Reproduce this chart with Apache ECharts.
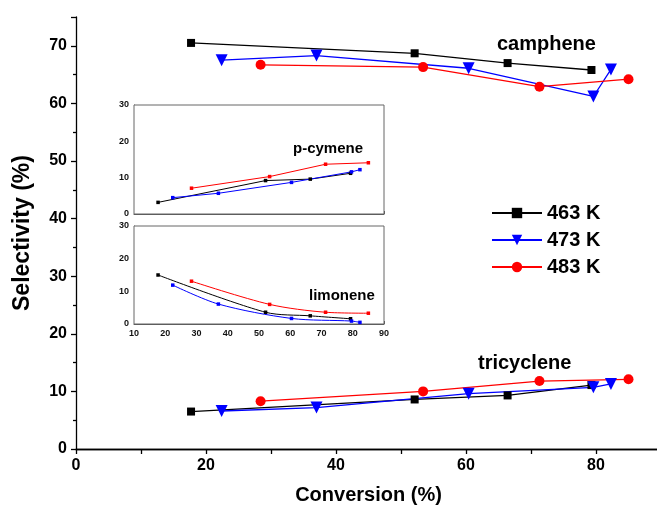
<!DOCTYPE html>
<html>
<head>
<meta charset="utf-8">
<script src="https://cdn.jsdelivr.net/npm/echarts@6/dist/echarts.min.js"></script>
<style>
  html, body { margin: 0; padding: 0; background: #fff; }
  #chart { width: 657px; height: 506px; }
</style>
</head>
<body>
<div id="chart"></div>
<script>
// conversion (%) for each temperature
const conv463 = [17.7, 52.1, 66.4, 79.3];
const conv473 = [22.4, 37.0, 60.4, 79.6, 82.3];
const conv483 = [28.4, 53.4, 71.3, 85.0];

// camphene selectivity (%)
const camphene463 = [70.5, 68.7, 67.0, 65.8];
const camphene473 = [67.5, 68.3, 66.1, 61.2, 65.9];
const camphene483 = [66.7, 66.3, 62.9, 64.2];

// tricyclene selectivity (%)
const tricyclene463 = [6.5, 8.6, 9.3, 11.1];
const tricyclene473 = [6.6, 7.2, 9.6, 10.7, 11.3];
const tricyclene483 = [8.3, 10.0, 11.8, 12.1];

// inset: p-cymene
const pcymene463 = [3.2, 9.2, 9.6, 11.2];
const pcymene473 = [4.5, 5.7, 8.7, 11.6, 12.2];
const pcymene483 = [7.1, 10.3, 13.7, 14.1];

// inset: limonene
const limonene463 = [15.0, 3.6, 2.5, 1.6];
const limonene473 = [11.9, 6.1, 1.7, 0.9, 0.5];
const limonene483 = [13.1, 6.0, 3.6, 3.3];

const tempNames = ['463 K', '473 K', '483 K'];
const colors = ['#000000', '#0000ff', '#ff0000'];

const font = 'Liberation Sans, Arial, Helvetica, sans-serif';
const zip = (xs, ys) => xs.map((x, i) => [x, ys[i]]);

const chart = echarts.init(document.getElementById('chart'));

const mainSym = [
  { symbol: 'rect', symbolSize: 8, symbolRotate: 0 },
  { symbol: 'triangle', symbolSize: 12, symbolRotate: 180 },
  { symbol: 'circle', symbolSize: 10, symbolRotate: 0 }
];
const convs = [conv463, conv473, conv483];

function mainSeries(values, idx) {
  return {
    name: tempNames[idx],
    type: 'line',
    xAxisIndex: 0, yAxisIndex: 0,
    data: zip(convs[idx], values),
    symbol: mainSym[idx].symbol,
    symbolSize: mainSym[idx].symbolSize,
    symbolRotate: mainSym[idx].symbolRotate,
    itemStyle: { color: colors[idx] },
    lineStyle: { color: colors[idx], width: 1.3 },
    z: 3
  };
}

function insetSeries(values, idx, gi, smooth) {
  return {
    name: tempNames[idx],
    type: 'line',
    xAxisIndex: gi, yAxisIndex: gi - 1,
    data: zip(convs[idx], values),
    symbol: 'rect',
    symbolSize: 3.5,
    smooth: smooth,
    itemStyle: { color: colors[idx] },
    lineStyle: { color: colors[idx], width: 1 },
    z: 5
  };
}

const insetY = gi => ({
  gridIndex: gi, type: 'value', min: 0, max: 30, interval: 10,
  axisLine: { show: true, lineStyle: { color: '#555', width: 1 } },
  axisTick: { show: true, inside: true, length: 3, lineStyle: { color: '#555' } },
  minorTick: { show: true, splitNumber: 2, length: 2, lineStyle: { color: '#555' } },
  axisLabel: { fontFamily: font, fontWeight: 'bold', fontSize: 9, color: '#111', margin: 5 },
  splitLine: { show: false }
});

const option = {
  animation: false,
  backgroundColor: '#fff',
  grid: [
    { left: 76, top: 17, width: 585, height: 432, outerBoundsMode: 'none', containLabel: false },
    { left: 134, top: 105, width: 250, height: 109, outerBoundsMode: 'none', show: true, backgroundColor: '#fff', borderColor: '#666', borderWidth: 1, z: 4 },
    { left: 134, top: 226, width: 250, height: 98, outerBoundsMode: 'none', show: true, backgroundColor: '#fff', borderColor: '#666', borderWidth: 1, z: 4 }
  ],
  legend: {
    data: tempNames,
    orient: 'vertical',
    left: 486, top: 198,
    itemWidth: 50, itemHeight: 13, itemGap: 7,
    textStyle: { fontFamily: font, fontWeight: 'bold', fontSize: 20, color: '#000' }
  },
  xAxis: [
    {
      gridIndex: 0, type: 'value', min: 0, max: 90, interval: 20,
      name: 'Conversion (%)', nameLocation: 'middle', nameGap: 36,
      nameTextStyle: { fontFamily: font, fontWeight: 'bold', fontSize: 20, color: '#000' },
      axisLine: { show: true, onZero: false, lineStyle: { color: '#000', width: 1.3 } },
      axisTick: { show: true, length: 5, lineStyle: { color: '#000', width: 1.3 } },
      minorTick: { show: true, splitNumber: 2, length: 5, lineStyle: { color: '#000', width: 1.3 } },
      axisLabel: { fontFamily: font, fontWeight: 'bold', fontSize: 16, color: '#000', margin: 9, showMaxLabel: false },
      splitLine: { show: false }
    },
    {
      gridIndex: 0, type: 'value', min: 0, max: 90, position: 'top',
      axisLine: { show: true, lineStyle: { color: '#000', width: 1.3 } },
      axisTick: { show: false }, axisLabel: { show: false }, splitLine: { show: false }
    },
    {
      gridIndex: 1, type: 'value', min: 10, max: 90, interval: 10,
      axisLine: { show: true, onZero: false, lineStyle: { color: '#555', width: 1 } },
      axisTick: { show: true, inside: true, length: 3, lineStyle: { color: '#555' } },
      axisLabel: { show: false }, splitLine: { show: false }
    },
    {
      gridIndex: 2, type: 'value', min: 10, max: 90, interval: 10,
      axisLine: { show: true, onZero: false, lineStyle: { color: '#555', width: 1 } },
      axisTick: { show: true, inside: true, length: 3, lineStyle: { color: '#555' } },
      minorTick: { show: true, splitNumber: 2, length: 2, lineStyle: { color: '#555' } },
      axisLabel: { fontFamily: font, fontWeight: 'bold', fontSize: 9, color: '#111', margin: 5 },
      splitLine: { show: false }
    }
  ],
  yAxis: [
    {
      gridIndex: 0, type: 'value', min: 0, max: 75, interval: 10,
      name: 'Selectivity (%)', nameLocation: 'middle', nameGap: 42, nameRotate: 90,
      nameTextStyle: { fontFamily: font, fontWeight: 'bold', fontSize: 23, color: '#000' },
      axisLine: { show: true, lineStyle: { color: '#000', width: 1.3 } },
      axisTick: { show: true, length: 5, lineStyle: { color: '#000', width: 1.3 } },
      minorTick: { show: true, splitNumber: 2, length: 3, lineStyle: { color: '#000', width: 1.3 } },
      axisLabel: { fontFamily: font, fontWeight: 'bold', fontSize: 16, color: '#000', margin: 9, showMaxLabel: false },
      splitLine: { show: false }
    },
    insetY(1),
    insetY(2)
  ],
  graphic: [
    { type: 'text', left: 497, top: 34, z: 10, style: { text: 'camphene', font: 'bold 20px ' + font, fill: '#000' } },
    { type: 'text', left: 478, top: 353, z: 10, style: { text: 'tricyclene', font: 'bold 20px ' + font, fill: '#000' } },
    { type: 'text', left: 293, top: 141, z: 10, style: { text: 'p-cymene', font: 'bold 15px ' + font, fill: '#000' } },
    { type: 'text', left: 309, top: 288, z: 10, style: { text: 'limonene', font: 'bold 15px ' + font, fill: '#000' } }
  ],
  series: [
    mainSeries(camphene463, 0),
    mainSeries(camphene473, 1),
    mainSeries(camphene483, 2),
    mainSeries(tricyclene463, 0),
    mainSeries(tricyclene473, 1),
    mainSeries(tricyclene483, 2),
    insetSeries(pcymene463, 0, 2, false),
    insetSeries(pcymene473, 1, 2, false),
    insetSeries(pcymene483, 2, 2, false),
    insetSeries(limonene463, 0, 3, 0.3),
    insetSeries(limonene473, 1, 3, 0.3),
    insetSeries(limonene483, 2, 3, 0.3)
  ]
};

chart.setOption(option);
</script>
</body>
</html>
